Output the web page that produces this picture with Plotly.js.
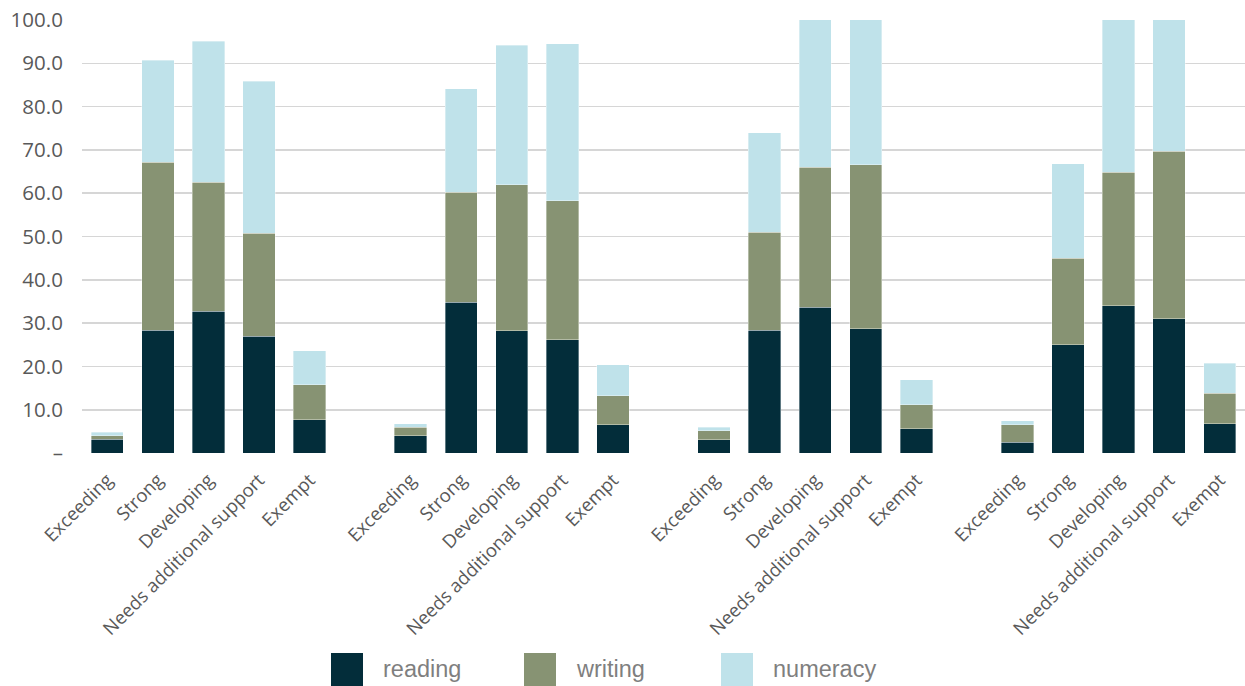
<!DOCTYPE html>
<html>
<head>
<meta charset="utf-8">
<script src="https://cdn.plot.ly/plotly-3.0.1.min.js"></script>
<style>html,body{margin:0;padding:0;background:#fff;}#chart{width:1245px;height:686px;}</style>
</head>
<body>
<div id="chart"></div>
<script>
// Categories repeated in each of the four groups
const categories = ["Exceeding", "Strong", "Developing", "Needs additional support", "Exempt"];
const groupCount = 4;

// Series values (group 1..4, each 5 categories)
const reading  = [3.2, 28.4, 32.7, 27.0, 7.7,   4.0, 34.8, 28.2, 26.1, 6.5,   3.1, 28.4, 33.7, 28.7, 5.6,   2.5, 25.0, 34.0, 31.0, 6.8];
const writing  = [0.8, 38.7, 29.8, 23.7, 8.1,   2.0, 25.4, 33.8, 32.1, 6.7,   2.0, 22.6, 32.3, 37.9, 5.5,   4.0, 20.0, 30.8, 38.7, 7.0];
const numeracy = [0.8, 23.6, 32.6, 35.2, 7.8,   0.8, 23.9, 32.2, 36.3, 7.2,   0.9, 23.0, 36.0, 36.0, 5.8,   0.9, 21.8, 37.0, 33.0, 6.9];

const seriesNames = ["reading", "writing", "numeracy"];
const seriesColors = ["#032d3a", "#879373", "#bfe2ea"];

// Y tick labels
const yTickVals = [0, 10, 20, 30, 40, 50, 60, 70, 80, 90, 100];
const yTickText = ["\u2013", "10.0", "20.0", "30.0", "40.0", "50.0", "60.0", "70.0", "80.0", "90.0", "100.0"];

// positions: each group of 5 followed by one empty slot
const xPos = [], xText = [];
for (let g = 0; g < groupCount; g++) {
  for (let c = 0; c < categories.length; c++) {
    xPos.push(g * (categories.length + 1) + c);
    xText.push(categories[c]);
  }
}

const seriesData = [reading, writing, numeracy];
const traces = seriesData.map((vals, i) => ({
  type: "bar",
  x: xPos,
  y: vals,
  name: seriesNames[i],
  marker: { color: seriesColors[i], line: { color: "rgba(255,255,255,0.6)", width: 0.6 } },
  hoverinfo: "y+name",
  showlegend: false
}));

const L = 82, T = 20, B = 233, R = 0, W = 1245, H = 686;
const plotH = H - T - B, plotW = W - L - R;
const px2x = px => (px - L) / plotW;
const px2y = py => (H - B - py) / plotH;

// custom legend (large square swatches)
const legendX = [331, 524, 721];
const shapes = [], annotations = [];
seriesNames.forEach((n, i) => {
  shapes.push({
    type: "rect", xref: "paper", yref: "paper",
    x0: px2x(legendX[i]), x1: px2x(legendX[i] + 32),
    y0: px2y(686), y1: px2y(653),
    fillcolor: seriesColors[i], line: { width: 0 }
  });
  annotations.push({
    xref: "paper", yref: "paper", x: px2x(legendX[i] + 50), y: px2y(669),
    xanchor: "left", yanchor: "middle", showarrow: false, text: n,
    font: { family: "Liberation Sans, Arial, sans-serif", size: 23.5, color: "#7f7f7f" }
  });
});

const layout = {
  width: W, height: H,
  margin: { l: L, r: R, t: T, b: B },
  barmode: "stack",
  bargap: 0.36,
  paper_bgcolor: "#fff",
  plot_bgcolor: "#fff",
  showlegend: false,
  xaxis: {
    range: [-0.5, groupCount * (categories.length + 1) - 1.5],
    tickmode: "array",
    tickvals: xPos,
    ticktext: xText,
    tickangle: -45,
    tickfont: { family: "Open Sans, sans-serif", size: 18.5, color: "#595959" },
    showgrid: false,
    zeroline: false,
    showline: false,
    ticks: "outside",
    ticklen: 8,
    tickcolor: "rgba(0,0,0,0)",
    fixedrange: true
  },
  yaxis: {
    range: [0, 100],
    tickmode: "array",
    tickvals: yTickVals,
    ticktext: yTickText,
    tickfont: { family: "Open Sans, sans-serif", size: 20.5, color: "#595959" },
    showgrid: true,
    gridcolor: "#d6d6d6",
    gridwidth: 1.6,
    zeroline: false,
    showline: false,
    ticks: "outside",
    ticklen: 14,
    tickcolor: "rgba(0,0,0,0)",
    fixedrange: true
  },
  shapes: shapes,
  annotations: annotations
};

Plotly.newPlot("chart", traces, layout, { displayModeBar: false, staticPlot: true });
</script>
</body>
</html>
